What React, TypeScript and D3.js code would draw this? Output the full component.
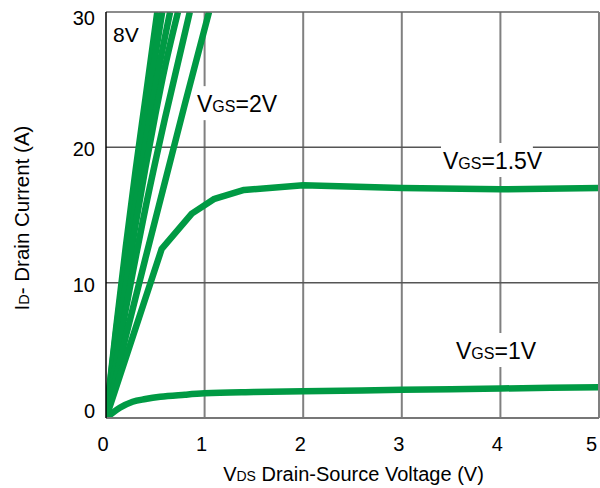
import React, { useEffect, useRef } from "react";
import * as d3 from "d3";

type Pt = [number, number];

// Axis ticks
const vdsTicks = [0, 1, 2, 3, 4, 5];
const idTicks = [0, 10, 20, 30];

// Output characteristics: [VDS (V), ID (A)] for each gate voltage
const vgs8V: Pt[] = [[0, 0], [0.1, 6.5], [0.2, 12.6], [0.3, 18.3], [0.4, 23.6], [0.52, 30]];
const vgs6V: Pt[] = [[0, 0], [0.1, 6.2], [0.2, 12.0], [0.3, 17.3], [0.4, 22.2], [0.57, 30]];
const vgs4V5: Pt[] = [[0, 0], [0.1, 5.6], [0.2, 10.9], [0.3, 15.8], [0.4, 20.3], [0.5, 24.5], [0.65, 30]];
const vgs3V: Pt[] = [[0, 0], [0.1, 5.0], [0.2, 9.8], [0.3, 14.3], [0.4, 18.5], [0.5, 22.4], [0.6, 26.0], [0.73, 30]];
const vgs2V5: Pt[] = [[0, 0], [0.2, 8.0], [0.4, 15.5], [0.6, 22.2], [0.85, 30]];
const vgs2V: Pt[] = [[0, 0], [0.2, 6.0], [0.4, 11.8], [0.6, 17.5], [0.8, 23.2], [1.045, 30]];
const vgs1V5: Pt[] = [[0, 0], [0.565, 12.5], [0.87, 15.1], [1.1, 16.2], [1.4, 16.85], [2, 17.2], [3, 17.0], [4, 16.9], [5, 17.0]];
const vgs1V: Pt[] = [[0, 0], [0.07, 0.4], [0.14, 0.75], [0.27, 1.2], [0.4, 1.4], [0.55, 1.57], [0.8, 1.72], [1, 1.82], [1.5, 1.92], [2, 1.98], [3, 2.08], [4, 2.18], [5, 2.28]];

const seriesList = [
  { name: "8V", points: vgs8V, smooth: true },
  { name: "6V", points: vgs6V, smooth: true },
  { name: "4.5V", points: vgs4V5, smooth: true },
  { name: "3V", points: vgs3V, smooth: true },
  { name: "2.5V", points: vgs2V5, smooth: true },
  { name: "2V", points: vgs2V, smooth: true },
  { name: "1.5V", points: vgs1V5, smooth: false },
  { name: "1V", points: vgs1V, smooth: true },
];

// Curve annotations, anchored in data units (left edge, baseline)
const curveLabels = [
  { lead: "8V", sub: "", tail: "", at: [0.071, 27.8] as Pt, boxed: false },
  { lead: "V", sub: "GS", tail: "=2V", at: [0.923, 22.6] as Pt, boxed: true },
  { lead: "V", sub: "GS", tail: "=1.5V", at: [3.418, 18.4] as Pt, boxed: true },
  { lead: "V", sub: "GS", tail: "=1V", at: [3.55, 4.36] as Pt, boxed: true },
];

const W = 600;
const H = 488;
const plot = { left: 106, right: 599, top: 12, bottom: 418 };
const GREEN = "#009a44";
const FONT = "'Liberation Sans', Arial, Helvetica, sans-serif";

export default function App() {
  const ref = useRef<SVGSVGElement>(null);

  useEffect(() => {
    const svg = d3.select(ref.current!);
    svg.selectAll("*").remove();

    const x = d3.scaleLinear().domain([0, 5]).range([plot.left, plot.right]);
    const y = d3.scaleLinear().domain([0, 30]).range([plot.bottom, plot.top]);

    svg
      .append("defs")
      .append("clipPath")
      .attr("id", "plot-clip")
      .append("rect")
      .attr("x", plot.left)
      .attr("y", plot.top)
      .attr("width", plot.right - plot.left)
      .attr("height", plot.bottom - plot.top);

    // Grid
    const grid = svg.append("g");
    grid
      .selectAll("line.v")
      .data(vdsTicks.filter((t) => t > 0 && t < 5))
      .join("line")
      .attr("x1", (d) => x(d))
      .attr("x2", (d) => x(d))
      .attr("y1", plot.top)
      .attr("y2", plot.bottom)
      .attr("stroke", "#808080")
      .attr("stroke-width", 2);
    grid
      .selectAll("line.h")
      .data(idTicks.filter((t) => t > 0 && t < 30))
      .join("line")
      .attr("x1", plot.left)
      .attr("x2", plot.right)
      .attr("y1", (d) => y(d))
      .attr("y2", (d) => y(d))
      .attr("stroke", "#555")
      .attr("stroke-width", 1.5);

    // Frame
    const frame = svg.append("g");
    frame.append("line").attr("x1", plot.left).attr("x2", plot.right).attr("y1", plot.top).attr("y2", plot.top).attr("stroke", "#666").attr("stroke-width", 1.5);
    frame.append("line").attr("x1", plot.right).attr("x2", plot.right).attr("y1", plot.top).attr("y2", plot.bottom).attr("stroke", "#808080").attr("stroke-width", 2);
    frame.append("line").attr("x1", plot.left).attr("x2", plot.right).attr("y1", plot.bottom).attr("y2", plot.bottom).attr("stroke", "#777").attr("stroke-width", 2);

    const boxLayer = svg.append("g");
    const curveLayer = svg.append("g").attr("clip-path", "url(#plot-clip)");
    frame.raise();
    svg.append("line").attr("x1", plot.left).attr("x2", plot.left).attr("y1", plot.top).attr("y2", plot.bottom).attr("stroke", "#000").attr("stroke-width", 1.5);
    const textLayer = svg.append("g");

    // Annotation text, with white backing boxes sized from the measured text
    curveLabels.forEach((lb) => {
      const big = lb.sub ? 23 : 21;
      const t = textLayer
        .append("text")
        .attr("x", x(lb.at[0]))
        .attr("y", y(lb.at[1]))
        .attr("font-family", FONT)
        .attr("font-size", big)
        .attr("fill", "#000");
      t.append("tspan").text(lb.lead);
      if (lb.sub) t.append("tspan").attr("font-size", 16).text(lb.sub);
      if (lb.tail) t.append("tspan").text(lb.tail);
      if (lb.boxed) {
        const bb = (t.node() as SVGTextElement).getBBox();
        const base = y(lb.at[1]);
        boxLayer
          .append("rect")
          .attr("x", bb.x - 2)
          .attr("y", base - 26)
          .attr("width", bb.width - 8)
          .attr("height", 34)
          .attr("fill", "#fff");
      }
    });

    // Curves
    seriesList.forEach((s) => {
      const gen = d3
        .line<Pt>()
        .x((d) => x(d[0]))
        .y((d) => y(d[1]))
        .curve(s.smooth ? d3.curveMonotoneX : d3.curveLinear);
      curveLayer
        .append("path")
        .attr("d", gen(s.points))
        .attr("fill", "none")
        .attr("stroke", GREEN)
        .attr("stroke-width", 6.5)
        .attr("stroke-linejoin", "round");
    });

    // Tick labels
    const ticks = svg.append("g").attr("font-family", FONT).attr("font-size", 20).attr("fill", "#000");
    ticks
      .selectAll("text.y")
      .data(idTicks)
      .join("text")
      .attr("x", 95)
      .attr("y", (d) => Math.min(Math.max(y(d) + 2, plot.top + 6), plot.bottom - 7))
      .attr("dy", "0.35em")
      .attr("text-anchor", "end")
      .text((d) => d3.format("d")(d));
    ticks
      .selectAll("text.x")
      .data(vdsTicks)
      .join("text")
      .attr("x", (d) => Math.min(x(d) - 3, W - 8.5))
      .attr("y", 451)
      .attr("text-anchor", "middle")
      .text((d) => d3.format("d")(d));

    // Axis titles
    const xt = svg
      .append("text")
      .attr("x", (plot.left + plot.right) / 2 + 1)
      .attr("y", 481)
      .attr("text-anchor", "middle")
      .attr("font-family", FONT)
      .attr("font-size", 20)
      .attr("fill", "#000");
    xt.append("tspan").text("V");
    xt.append("tspan").attr("font-size", 14).text("DS");
    xt.append("tspan").text(" Drain-Source Voltage (V)");

    const yt = svg
      .append("text")
      .attr("transform", `translate(29, ${(plot.top + plot.bottom) / 2 + 3}) rotate(-90)`)
      .attr("text-anchor", "middle")
      .attr("font-family", FONT)
      .attr("font-size", 20.5)
      .attr("fill", "#000");
    yt.append("tspan").text("I");
    yt.append("tspan").attr("font-size", 14.5).text("D");
    yt.append("tspan").text("- Drain Current (A)");
  }, []);

  return (
    <div style={{ position: "absolute", left: 0, top: 0, width: W, height: H, background: "#fff" }}>
      <svg ref={ref} width={W} height={H} style={{ display: "block" }} />
    </div>
  );
}
